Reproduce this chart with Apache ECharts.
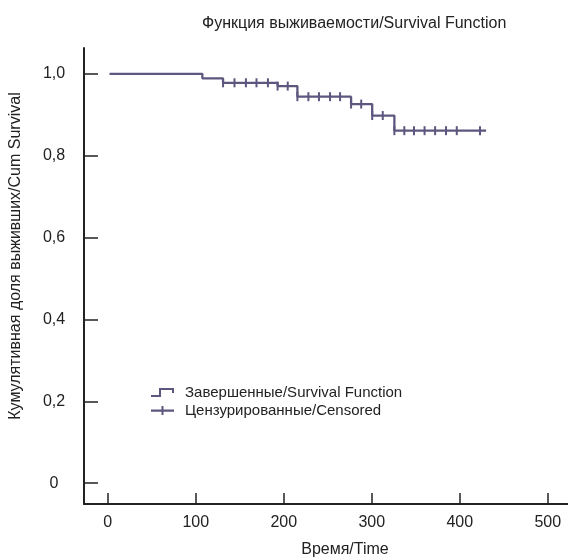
<!DOCTYPE html>
<html>
<head>
<meta charset="utf-8">
<script src="https://cdn.jsdelivr.net/npm/echarts@6/dist/echarts.min.js"></script>
<style>
html, body { margin: 0; padding: 0; background: #fff; }
#chart { width: 568px; height: 559px; }
</style>
</head>
<body>
<div id="chart"></div>
<script>
// Kaplan-Meier curve
const survTime  = [2, 107.5, 131, 193, 215.5, 276.5, 300.5, 325.7, 430]
const survValue = [1, 0.989, 0.978, 0.970, 0.944, 0.926, 0.898, 0.861, 0.861]

// censored marks
const censTime  = [131, 144, 157, 169, 182, 193, 204.5, 215.5, 228, 240, 252.6, 264, 276.5, 288, 300.5, 312.5, 325.7, 337, 348, 360, 372, 384.4, 396.6, 423]
const censValue = [0.978, 0.978, 0.978, 0.978, 0.978, 0.970, 0.970, 0.944, 0.944, 0.944, 0.944, 0.944, 0.926, 0.926, 0.898, 0.898, 0.861, 0.861, 0.861, 0.861, 0.861, 0.861, 0.861, 0.861]

const xTicks = [0, 100, 200, 300, 400, 500]
const yTicks = [0, 0.2, 0.4, 0.6, 0.8, 1.0]

const font = 'Liberation Sans'
const ink = '#222'
const curve = '#5d577f'

const chart = echarts.init(document.getElementById('chart'))

const option = {
    animation: false,
    title: {
        text: 'Функция выживаемости/Survival Function',
        left: 197,
        top: 11,
        textStyle: { fontFamily: font, fontSize: 16, fontWeight: 'normal', color: ink }
    },
    legend: {
        left: 146,
        top: 380,
        orient: 'vertical',
        itemWidth: 23,
        itemHeight: 9,
        itemGap: 3,
        symbolKeepAspect: false,
        itemStyle: { borderWidth: 0, opacity: 1 },
        textStyle: { fontFamily: font, fontSize: 15, color: ink, padding: [0, 0, 0, 6] },
        data: [
            { name: 'Завершенные/Survival Function', icon: 'path://M0,7 L8,7 L8,0 L23,0 L23,5 L21,5 L21,2 L10,2 L10,9 L0,9 Z' },
            { name: 'Цензурированные/Censored', icon: 'path://M0,4 L10.5,4 L10.5,1 L12.5,1 L12.5,4 L23,4 L23,6 L12.5,6 L12.5,9 L10.5,9 L10.5,6 L0,6 Z' }
        ]
    },
    grid: { left: 84, right: 0, top: 48, bottom: 55 },
    xAxis: {
        type: 'value',
        min: -27,
        max: 523,
        splitLine: { show: false },
        axisLine: { onZero: false, lineStyle: { color: ink, width: 2 } },
        axisTick: { inside: true, length: 11, customValues: xTicks, lineStyle: { color: ink, width: 1.5 } },
        axisLabel: { customValues: xTicks, margin: 11, fontFamily: font, fontSize: 16, color: ink }
    },
    yAxis: {
        type: 'value',
        min: -0.051,
        max: 1.063,
        splitLine: { show: false },
        axisLine: { onZero: false, lineStyle: { color: ink, width: 2 } },
        axisTick: { inside: true, length: 14, customValues: yTicks, lineStyle: { color: ink, width: 1.5 } },
        axisLabel: {
            customValues: yTicks,
            margin: 30,
            align: 'center',
            fontFamily: font,
            fontSize: 16,
            color: ink,
            formatter: v => v === 0 ? '0' : v.toFixed(1).replace('.', ',')
        }
    },
    graphic: [
        {
            type: 'text',
            x: 16,
            y: 256,
            rotation: Math.PI / 2,
            style: {
                text: 'Кумулятивная доля выживших/Cum Survival',
                fontFamily: font, fontSize: 16, fill: ink,
                align: 'center', verticalAlign: 'middle'
            }
        },
        {
            type: 'text',
            x: 345,
            y: 550,
            style: {
                text: 'Время/Time',
                fontFamily: font, fontSize: 16, fill: ink,
                align: 'center', verticalAlign: 'middle'
            }
        }
    ],
    series: [
        {
            name: 'Завершенные/Survival Function',
            type: 'line',
            step: 'end',
            showSymbol: false,
            color: curve,
            lineStyle: { color: curve, width: 2.3 },
            data: survTime.map((t, i) => [t, survValue[i]])
        },
        {
            name: 'Цензурированные/Censored',
            type: 'scatter',
            symbol: 'rect',
            symbolSize: [2, 9],
            color: curve,
            itemStyle: { color: curve, opacity: 1 },
            data: censTime.map((t, i) => [t, censValue[i]])
        }
    ]
}

chart.setOption(option)
</script>
</body>
</html>
